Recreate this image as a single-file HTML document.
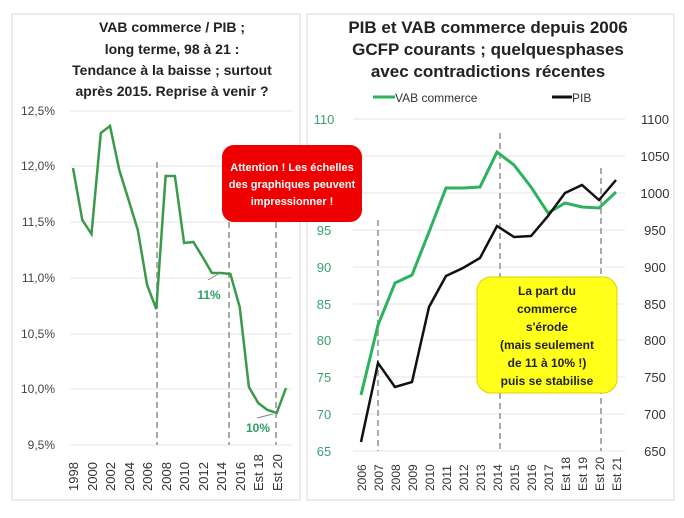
<!DOCTYPE html>
<html><head><meta charset="utf-8"><style>
html,body{margin:0;padding:0;background:#fff;}
body{width:684px;height:513px;overflow:hidden;font-family:"Liberation Sans",sans-serif;}
</style></head><body>
<svg width="684" height="513" viewBox="0 0 684 513" xmlns="http://www.w3.org/2000/svg" font-family="Liberation Sans, sans-serif">
<rect x="12" y="14" width="288" height="486" fill="#fff" stroke="#d9d9d9"/>
<rect x="307" y="14" width="367" height="486" fill="#fff" stroke="#d9d9d9"/>
<g font-weight="bold" font-size="14" text-anchor="middle" fill="#222">
<text x="172" y="32">VAB commerce / PIB ;</text>
<text x="172" y="54">long terme, 98 à 21 :</text>
<text x="172" y="75">Tendance à la baisse ; surtout</text>
<text x="172" y="96">après 2015. Reprise   à venir ?</text>
</g>
<g stroke="#e6e6e6" stroke-width="1">
<line x1="70" x2="292" y1="111" y2="111"/><line x1="70" x2="292" y1="166" y2="166"/>
<line x1="70" x2="292" y1="222" y2="222"/><line x1="70" x2="292" y1="278" y2="278"/>
<line x1="70" x2="292" y1="334" y2="334"/><line x1="70" x2="292" y1="389" y2="389"/>
<line x1="70" x2="292" y1="445" y2="445"/>
</g>
<g font-size="12" text-anchor="end" fill="#444">
<text x="55" y="115">12,5%</text><text x="55" y="170">12,0%</text><text x="55" y="226">11,5%</text>
<text x="55" y="282">11,0%</text><text x="55" y="338">10,5%</text><text x="55" y="393">10,0%</text>
<text x="55" y="449">9,5%</text>
</g>
<g stroke="#aaa" stroke-width="2" stroke-dasharray="6,4">
<line x1="157" x2="157" y1="162" y2="445"/><line x1="229" x2="229" y1="222" y2="445"/><line x1="276" x2="276" y1="222" y2="445"/>
</g>
<polyline fill="none" stroke="#3a9a4a" stroke-width="2.5" points="73,168 82.3,220 91.5,234 100.8,133 110,126 119.3,170 128.6,200 137.8,230 147.1,285 156.3,309 165.6,176 174.9,176 184.1,243 193.4,242 202.6,257 211.9,273 221.2,273 230.4,274 239.7,307 248.9,387 258.2,403 267.5,410 276.7,413 286,388"/>
<line x1="208" y1="280" x2="220" y2="273" stroke="#888"/>
<text x="209" y="299" font-size="12" font-weight="bold" fill="#2aa060" text-anchor="middle">11%</text>
<line x1="257" y1="418" x2="273" y2="414" stroke="#888"/>
<text x="258" y="432" font-size="12" font-weight="bold" fill="#2aa060" text-anchor="middle">10%</text>
<g font-size="13" fill="#333">
<text transform="translate(78,491) rotate(-90)">1998</text>
<text transform="translate(97,491) rotate(-90)">2000</text>
<text transform="translate(115,491) rotate(-90)">2002</text>
<text transform="translate(134,491) rotate(-90)">2004</text>
<text transform="translate(152,491) rotate(-90)">2006</text>
<text transform="translate(171,491) rotate(-90)">2008</text>
<text transform="translate(189,491) rotate(-90)">2010</text>
<text transform="translate(208,491) rotate(-90)">2012</text>
<text transform="translate(226,491) rotate(-90)">2014</text>
<text transform="translate(245,491) rotate(-90)">2016</text>
<text transform="translate(263,491) rotate(-90)">Est 18</text>
<text transform="translate(282,491) rotate(-90)">Est 20</text>
</g>
<g font-weight="bold" font-size="17" text-anchor="middle" fill="#222">
<text x="488" y="33">PIB et VAB commerce depuis 2006</text>
<text x="488" y="55">GCFP courants ; quelquesphases</text>
<text x="488" y="77">avec contradictions récentes</text>
</g>
<line x1="373" x2="395" y1="97" y2="97" stroke="#2db35d" stroke-width="3"/>
<text x="395" y="102" font-size="12" fill="#333">VAB commerce</text>
<line x1="552" x2="572" y1="97" y2="97" stroke="#111" stroke-width="3"/>
<text x="572" y="102" font-size="12" fill="#333">PIB</text>
<g stroke="#e6e6e6">
<line x1="353" x2="625" y1="119" y2="119"/><line x1="353" x2="625" y1="156" y2="156"/><line x1="353" x2="625" y1="193" y2="193"/>
<line x1="353" x2="625" y1="230" y2="230"/><line x1="353" x2="625" y1="267" y2="267"/><line x1="353" x2="625" y1="304" y2="304"/>
<line x1="353" x2="625" y1="340" y2="340"/><line x1="353" x2="625" y1="377" y2="377"/><line x1="353" x2="625" y1="414" y2="414"/>
<line x1="353" x2="625" y1="451" y2="451"/>
</g>
<g font-size="13" fill="#3aa070" text-anchor="middle">
<text x="324" y="124">110</text><text x="324" y="235">95</text><text x="324" y="272">90</text><text x="324" y="309">85</text>
<text x="324" y="345">80</text><text x="324" y="382">75</text><text x="324" y="419">70</text><text x="324" y="456">65</text>
</g>
<g font-size="13" fill="#333" text-anchor="middle">
<text x="655" y="124">1100</text><text x="655" y="161">1050</text><text x="655" y="198">1000</text><text x="655" y="235">950</text>
<text x="655" y="272">900</text><text x="655" y="309">850</text><text x="655" y="345">800</text><text x="655" y="382">750</text>
<text x="655" y="419">700</text><text x="655" y="456">650</text>
</g>
<g stroke="#aaa" stroke-width="2" stroke-dasharray="6,4">
<line x1="378" x2="378" y1="220" y2="451"/><line x1="500" x2="500" y1="133" y2="451"/><line x1="601" x2="601" y1="168" y2="451"/>
</g>
<polyline fill="none" stroke="#2db35d" stroke-width="3" points="361,395 378,325 395,283 412,275 429,232 446,188 463,188 480,187 497,152 514,165 531,187 548,213 565,203 582,207 599,208 616,192"/>
<polyline fill="none" stroke="#111" stroke-width="2.5" points="361,442 378,363 395,387 412,382 429,307 446,276 463,268 480,258 497,226 514,237 531,236 548,216 565,193 582,185 599,200 616,180"/>
<g font-size="12" fill="#333">
<text transform="translate(366,491) rotate(-90)">2006</text>
<text transform="translate(383,491) rotate(-90)">2007</text>
<text transform="translate(400,491) rotate(-90)">2008</text>
<text transform="translate(417,491) rotate(-90)">2009</text>
<text transform="translate(434,491) rotate(-90)">2010</text>
<text transform="translate(451,491) rotate(-90)">2011</text>
<text transform="translate(468,491) rotate(-90)">2012</text>
<text transform="translate(485,491) rotate(-90)">2013</text>
<text transform="translate(502,491) rotate(-90)">2014</text>
<text transform="translate(519,491) rotate(-90)">2015</text>
<text transform="translate(536,491) rotate(-90)">2016</text>
<text transform="translate(553,491) rotate(-90)">2017</text>
<text transform="translate(570,491) rotate(-90)">Est 18</text>
<text transform="translate(587,491) rotate(-90)">Est 19</text>
<text transform="translate(604,491) rotate(-90)">Est 20</text>
<text transform="translate(621,491) rotate(-90)">Est 21</text>
</g>
<rect x="222" y="145" width="140" height="77" rx="12" fill="#ee0000"/>
<g font-size="11" font-weight="bold" fill="#fff" text-anchor="middle">
<text x="292" y="171">Attention ! Les échelles</text>
<text x="292" y="188">des graphiques peuvent</text>
<text x="292" y="205">impressionner !</text>
</g>
<rect x="477" y="277" width="140" height="116" rx="14" fill="#ffff1a" stroke="#e0d000"/>
<g font-size="12" font-weight="bold" fill="#222" text-anchor="middle">
<text x="547" y="295">La part du</text>
<text x="547" y="313">commerce</text>
<text x="547" y="331">s'érode</text>
<text x="547" y="349">(mais seulement</text>
<text x="547" y="367">de 11 à 10% !)</text>
<text x="547" y="385">puis se stabilise</text>
</g>
</svg>
</body></html>
